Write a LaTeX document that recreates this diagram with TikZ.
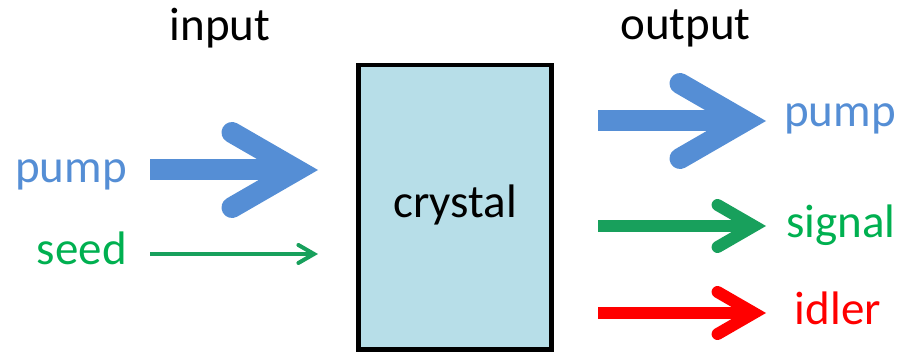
\documentclass[tikz,border=0pt]{standalone}
\usepackage{fontspec}
\setmainfont{Carlito}
\definecolor{pumpblue}{HTML}{558ED5}
\definecolor{arrgreen}{HTML}{18A05C}
\definecolor{txtgreen}{HTML}{00B050}
\definecolor{crystalfill}{HTML}{B7DEE8}
\definecolor{idlerred}{HTML}{FF0000}
\tikzset{
  lbl/.style={font=\fontsize{47}{56}\selectfont, inner sep=0pt, anchor=base},
  barbline/.style={line cap=round, line join=miter},
}
% #1 colour, #2 width, #3 start coord name, #4 tip coord name, #5 half-spread of barb centre, #6 back of barb centre
\newcommand{\fatarrow}[6]{%
  \draw[#1, line width=#2pt, line cap=butt] (#3) -- ([xshift=-#2pt]#4);
  \draw[#1, line width=#2pt, barbline]
    ([xshift=-#2pt-#6pt, yshift=-#5pt]#4) -- ([xshift=-#2pt]#4) -- ([xshift=-#2pt-#6pt, yshift=#5pt]#4);
}
\begin{document}
\begin{tikzpicture}[x=1pt, y=-1pt]
  \useasboundingbox (0,0) rectangle (906,352);
  % crystal
  \node[draw=black, line width=4.5pt, fill=crystalfill, minimum width=193.2pt, minimum height=284.5pt, inner sep=0pt]
    (crystal) at (455,207.25) {};
  \node[lbl] (crystaltxt) at (455,218) {crystal};
  % headings
  \node[lbl] (input) at (220,41) {input};
  \node[lbl] (output) at (685.5,40) {output};
  % left labels
  \node[lbl, anchor=base east, text=pumpblue] (pumpin) at (127,183) {pump};
  \node[lbl, anchor=base east, text=txtgreen] (seed) at (127,265) {seed};
  % right labels
  \node[lbl, text=pumpblue] (pumpout) at (840,127) {pump};
  \node[lbl, text=txtgreen] (signal) at (841,238) {signal};
  \node[lbl, text=idlerred] (idler) at (838,325) {idler};
  % arrow end points
  \coordinate (pin0) at (150,170);
  \coordinate (pin1) at (318,170);
  \coordinate (sin0) at (150,254);
  \coordinate (sin1) at (318,254);
  \coordinate (pout0) at (598,121);
  \coordinate (pout1) at (766,121);
  \coordinate (sig0) at (598,226);
  \coordinate (sig1) at (766,226);
  \coordinate (idl0) at (598,313);
  \coordinate (idl1) at (766,313);
  % arrows
  \fatarrow{pumpblue}{21}{pin0}{pin1}{37.5}{65}
  \fatarrow{arrgreen}{4}{sin0}{sin1}{9}{15.6}
  \fatarrow{pumpblue}{21}{pout0}{pout1}{37.5}{65}
  \fatarrow{arrgreen}{12}{sig0}{sig1}{21}{36.4}
  \fatarrow{idlerred}{12}{idl0}{idl1}{21}{36.4}
\end{tikzpicture}
\end{document}
